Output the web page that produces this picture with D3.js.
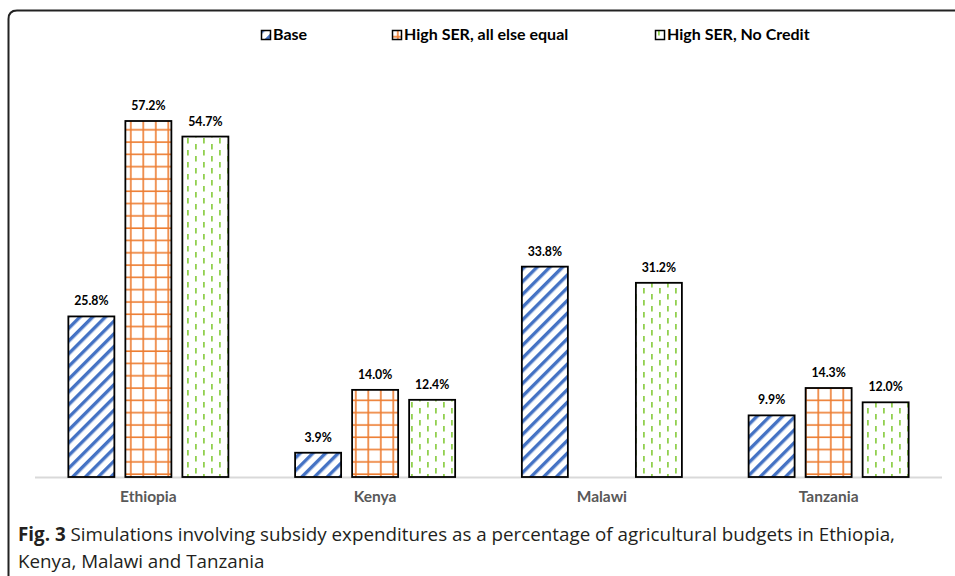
<!DOCTYPE html>
<html><head><meta charset="utf-8">
<script src="https://cdn.jsdelivr.net/npm/d3@7/dist/d3.min.js"></script>
<style>body{margin:0;background:#fff}svg{display:block}</style>
</head><body>
<script>
const categories = ["Ethiopia", "Kenya", "Malawi", "Tanzania"];
const series = ["Base", "High SER, all else equal", "High SER, No Credit"];
const baseValues = [25.8, 3.9, 33.8, 9.9];
const highSerValues = [57.2, 14.0, null, 14.3];
const noCreditValues = [54.7, 12.4, 31.2, 12.0];
const captionBold = "Fig. 3";
const captionLine1 = " Simulations involving subsidy expenditures as a percentage of agricultural budgets in Ethiopia,";
const captionLine2 = "Kenya, Malawi and Tanzania";

const W = 955, H = 576;
const svg = d3.select("body").append("svg").attr("width", W).attr("height", H);
const defs = svg.append("defs");

// patterns
const p1 = defs.append("pattern").attr("id","pBase").attr("patternUnits","userSpaceOnUse")
  .attr("width",9).attr("height",9).attr("patternTransform","rotate(45)");
p1.append("rect").attr("width",9).attr("height",9).attr("fill","#fff");
p1.append("rect").attr("x",0).attr("y",0).attr("width",3.4).attr("height",9).attr("fill","#4472C4");

const p2 = defs.append("pattern").attr("id","pHigh").attr("patternUnits","userSpaceOnUse")
  .attr("width",12.5).attr("height",12.3);
p2.append("rect").attr("width",12.5).attr("height",12.3).attr("fill","#fff");
p2.append("rect").attr("x",5).attr("y",0).attr("width",1.6).attr("height",12.3).attr("fill","#ED7D31");
p2.append("rect").attr("x",0).attr("y",6).attr("width",12.5).attr("height",1.6).attr("fill","#ED7D31");

const p3 = defs.append("pattern").attr("id","pNo").attr("patternUnits","userSpaceOnUse")
  .attr("width",16).attr("height",12);
p3.append("rect").attr("width",16).attr("height",12).attr("fill","#fff");
p3.append("rect").attr("x",3).attr("y",0).attr("width",1.8).attr("height",5.5).attr("fill","#92D050");
p3.append("rect").attr("x",11).attr("y",6).attr("width",1.8).attr("height",5.5).attr("fill","#92D050");

const fills = ["url(#pBase)","url(#pHigh)","url(#pNo)"];

// frame
svg.append("path")
  .attr("d", `M8.5,${H} L8.5,19 Q8.5,10.5 17,10.5 L${W},10.5`)
  .attr("fill","none").attr("stroke","#222").attr("stroke-width",2);

const baseline = 477;
const y = d3.scaleLinear().domain([0, 57.2]).range([baseline, 121]);
const x0 = d3.scaleBand().domain(categories).range([35, 942]);
const x1 = d3.scaleBand().domain(series).range([0, x0.bandwidth()]).paddingInner(0.193).paddingOuter(0.585);

const data = categories.map((c,i)=>({cat:c, vals:[baseValues[i], highSerValues[i], noCreditValues[i]]}));

// axis line
svg.append("line").attr("x1",35).attr("x2",942).attr("y1",baseline+0.5).attr("y2",baseline+0.5)
  .attr("stroke","#d9d9d9").attr("stroke-width",2);

const g = svg.append("g");
data.forEach(d=>{
  d.vals.forEach((v,j)=>{
    if (v == null) return;
    const bx = x0(d.cat) + x1(series[j]);
    g.append("rect").attr("x",bx).attr("y",y(v)).attr("width",x1.bandwidth()).attr("height",baseline - y(v))
      .attr("fill",fills[j]).attr("stroke","#000").attr("stroke-width",1.8);
    g.append("text").attr("x",bx + x1.bandwidth()/2).attr("y",y(v)-11)
      .attr("text-anchor","middle").attr("font-family","Lato, 'Open Sans', sans-serif")
      .attr("font-weight","bold").attr("font-size",12.3).attr("fill","#000")
      .text(v.toFixed(1)+"%");
  });
});

// category axis labels
const xAxis = d3.axisBottom(x0).tickSize(0).tickPadding(0);
const ax = svg.append("g").attr("transform",`translate(0,${baseline+25})`).call(xAxis);
ax.select(".domain").remove();
ax.selectAll("text").attr("font-family","Lato, 'Open Sans', sans-serif").attr("font-weight","bold")
  .attr("font-size",15.5).attr("fill","#595959").attr("dy","0");

// legend
const legX = [261, 392, 655];
const legend = svg.append("g");
series.forEach((s,j)=>{
  const lg = legend.append("g").attr("transform",`translate(${legX[j]},30)`);
  lg.append("rect").attr("x",0.5).attr("y",0.5).attr("width",9).attr("height",9)
    .attr("fill",fills[j]).attr("stroke","#000").attr("stroke-width",1.5);
  lg.append("text").attr("x",12).attr("y",10).attr("font-family","Lato, 'Open Sans', sans-serif")
    .attr("font-weight","bold").attr("font-size",16).attr("fill","#000").text(s);
});

// caption
const cap = svg.append("text").attr("x",18).attr("y",541)
  .attr("font-family","'Open Sans', sans-serif").attr("font-size",18.8).attr("fill","#231f20");
cap.append("tspan").attr("font-weight","bold").text(captionBold);
cap.append("tspan").text(captionLine1);
svg.append("text").attr("x",18).attr("y",568)
  .attr("font-family","'Open Sans', sans-serif").attr("font-size",18.8).attr("fill","#231f20")
  .text(captionLine2);
</script>
</body></html>
